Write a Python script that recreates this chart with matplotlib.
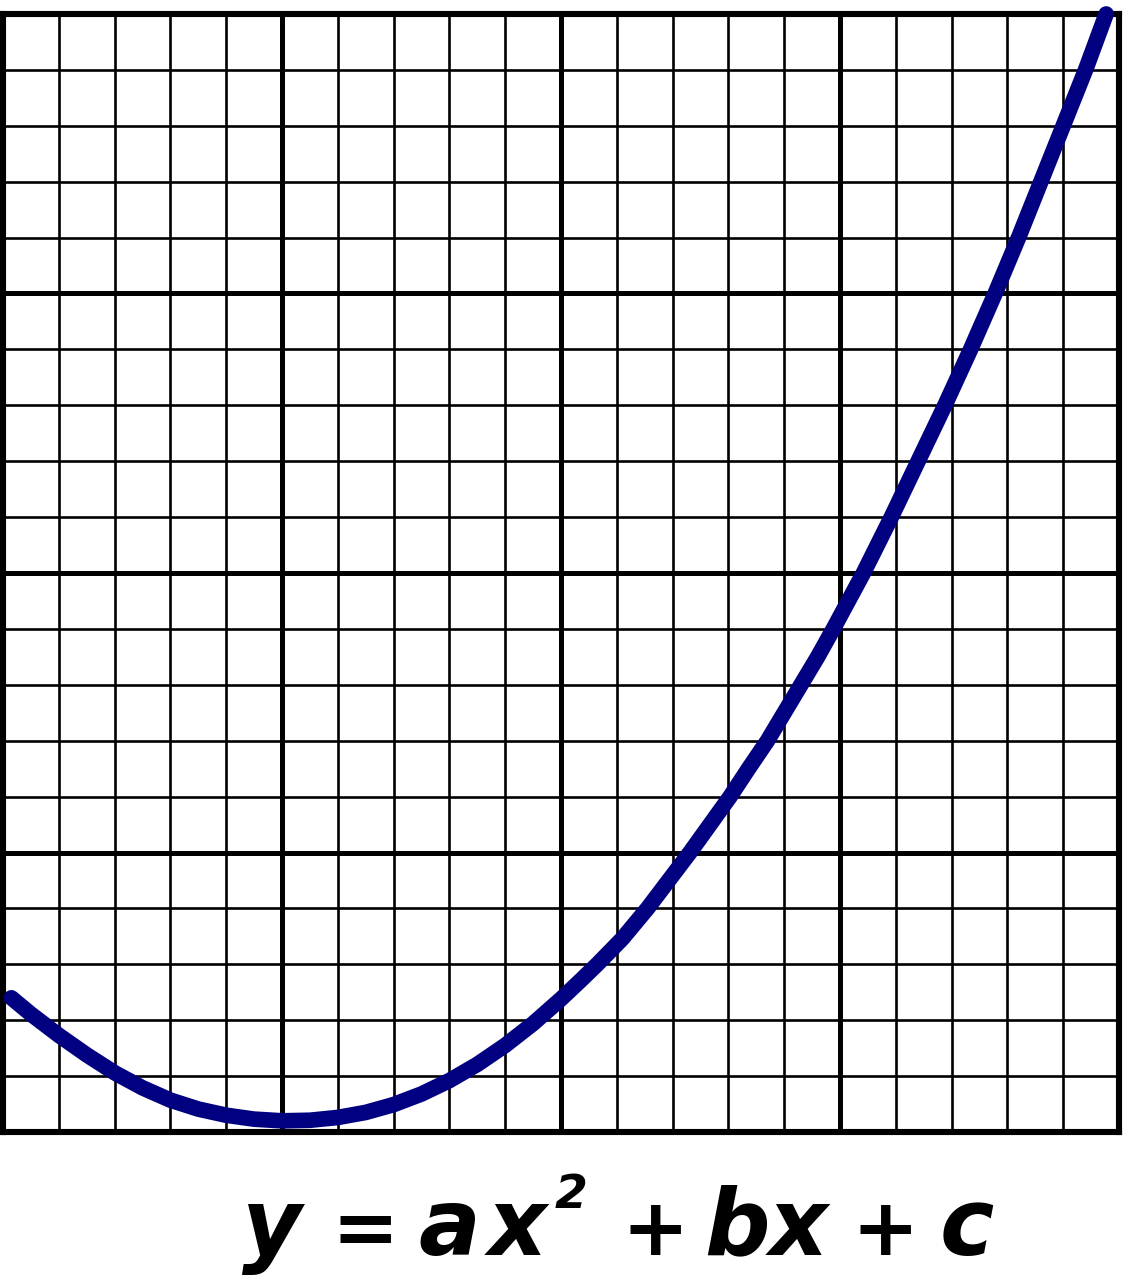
import matplotlib
matplotlib.use("Agg")
import matplotlib.pyplot as plt
from matplotlib.ticker import MultipleLocator

# Curve points (grid units: one minor cell = 1)
curve_x = [0.15, 0.5, 1.0, 1.5, 2.0, 2.5, 3.0, 3.5, 4.0, 4.5, 5.0, 5.5, 6.0, 6.5,
           7.0, 7.5, 8.0, 8.5, 9.0, 9.5, 10.0, 10.35, 10.65, 11.1, 11.55, 11.93,
           12.31, 12.67, 13.03, 13.36, 13.70, 14.0, 14.30, 14.6, 14.88, 15.15,
           15.42, 15.92, 16.40, 16.88, 17.34, 17.78, 18.20, 18.60, 19.0, 19.40, 19.77]
curve_y = [2.40, 2.11, 1.73, 1.38, 1.06, 0.79, 0.57, 0.41, 0.30, 0.23, 0.20, 0.21, 0.26, 0.35,
           0.49, 0.68, 0.92, 1.21, 1.55, 1.94, 2.38, 2.71, 3.0, 3.46, 4.0, 4.5,
           5.0, 5.5, 6.0, 6.5, 7.0, 7.5, 8.0, 8.5, 9.0, 9.5,
           10.0, 11.0, 12.0, 13.0, 14.0, 15.0, 16.0, 17.0, 18.0, 19.0, 20.0]

x_range = [0, 20]
y_range = [0, 20]
major_step = 5
minor_step = 1

# Equation pieces (text, centre x px, baseline y px, size pt)
eq_text = ["y", "=", "a", "x", "2", "+", "b", "x", "+", "c"]
eq_x = [272, 365, 449, 517, 571, 655, 737, 798, 885, 967]
eq_base = [1255, 1255, 1255, 1255, 1208, 1255, 1255, 1255, 1255, 1255]
eq_size = [66, 58, 66, 66, 34, 58, 66, 66, 58, 66]

W, H, DPI = 1126, 1280, 100
fig = plt.figure(figsize=(W / DPI, H / DPI), dpi=DPI)
fig.patch.set_facecolor("white")

left, right, top, bottom = 3, 1119, 14, 1132
ax = fig.add_axes([left / W, 1 - bottom / H, (right - left) / W, (bottom - top) / H])
ax.set_xlim(*x_range)
ax.set_ylim(*y_range)
ax.xaxis.set_major_locator(MultipleLocator(major_step))
ax.yaxis.set_major_locator(MultipleLocator(major_step))
ax.xaxis.set_minor_locator(MultipleLocator(minor_step))
ax.yaxis.set_minor_locator(MultipleLocator(minor_step))
ax.grid(which="minor", color="black", linewidth=1.9)
ax.grid(which="major", color="black", linewidth=3.6)
ax.tick_params(which="both", length=0, labelbottom=False, labelleft=False)
for s in ax.spines.values():
    s.set_linewidth(4.4)
    s.set_color("black")
ax.set_axisbelow(True)

ax.plot(curve_x, curve_y, color="#000080", linewidth=11.3,
        solid_capstyle="round", solid_joinstyle="round", clip_on=False, zorder=5)

for t, cx, by, sz in zip(eq_text, eq_x, eq_base, eq_size):
    fig.text(cx / W, 1 - by / H, t, ha="center", va="baseline",
             fontsize=sz, fontweight="bold", fontstyle="italic",
             family="DejaVu Sans", color="black")

fig.savefig("out.png", dpi=DPI, facecolor="white")
